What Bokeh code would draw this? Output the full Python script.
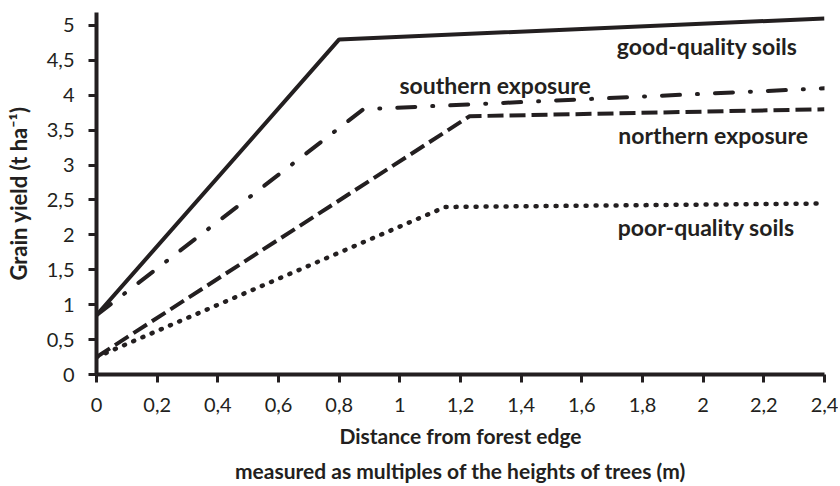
from bokeh.plotting import figure
from bokeh.models import FixedTicker, LinearAxis, Range1d
from bokeh.core.properties import value
from bokeh.embed import file_html
from bokeh.resources import INLINE

# ---- data ----
x_ticks = [0, 0.2, 0.4, 0.6, 0.8, 1.0, 1.2, 1.4, 1.6, 1.8, 2.0, 2.2, 2.4]
x_tick_labels = ["0", "0,2", "0,4", "0,6", "0,8", "1", "1,2", "1,4", "1,6", "1,8", "2", "2,2", "2,4"]
y_ticks = [0, 0.5, 1.0, 1.5, 2.0, 2.5, 3.0, 3.5, 4.0, 4.5, 5.0]
y_tick_labels = ["0", "0,5", "1", "1,5", "2", "2,5", "3", "3,5", "4", "4,5", "5"]

good_x = [0, 0.8, 2.4]
good_y = [0.85, 4.8, 5.1]
south_x = [0, 0.88, 2.4]
south_y = [0.85, 3.8, 4.1]
north_x = [0, 1.23, 2.4]
north_y = [0.25, 3.7, 3.8]
poor_x = [0, 1.15, 2.4]
poor_y = [0.25, 2.4, 2.45]

label_text = ["good-quality soils", "southern exposure", "northern exposure", "poor-quality soils"]
label_x = [2.013, 1.314, 2.033, 2.010]
label_y = [4.71, 4.15, 3.43, 2.11]

INK = "#231f20"
FONT = "Lato"

p = figure(width=838, height=486, output_backend="svg", toolbar_location=None,
           x_range=Range1d(0, 2.4), y_range=Range1d(0, 5.186),
           min_border_left=96, min_border_right=14, min_border_top=12, min_border_bottom=112)
p.grid.visible = False
p.outline_line_color = None
p.background_fill_color = "white"

for ax in (p.xaxis[0], p.yaxis[0]):
    ax.axis_line_width = 4
    ax.axis_line_color = INK
    ax.major_tick_line_width = 3
    ax.major_tick_line_color = INK
    ax.major_tick_out = 8
    ax.major_tick_in = 0
    ax.minor_tick_line_color = None
    ax.major_label_text_font = FONT
    ax.major_label_text_font_size = "20px"
    ax.major_label_text_color = INK
    ax.axis_label_text_font = FONT
    ax.axis_label_text_font_style = "bold"
    ax.axis_label_text_font_size = "21px"
    ax.axis_label_text_color = INK

p.xaxis[0].ticker = FixedTicker(ticks=x_ticks)
p.xaxis[0].major_label_overrides = {t: s for t, s in zip(x_ticks, x_tick_labels)}
p.xaxis[0].major_label_standoff = 15
p.xaxis[0].axis_label = "Distance from forest edge"
p.xaxis[0].axis_label_standoff = 8

p.yaxis[0].ticker = FixedTicker(ticks=y_ticks)
p.yaxis[0].major_label_overrides = {t: s for t, s in zip(y_ticks, y_tick_labels)}
p.yaxis[0].major_label_standoff = 14
p.yaxis[0].axis_label = "Grain yield (t ha\u207b\u00b9)"
p.yaxis[0].axis_label_text_font_size = "22px"
p.yaxis[0].axis_label_standoff = 12

ax2 = LinearAxis(ticker=FixedTicker(ticks=[]), axis_line_color=None,
                 major_tick_line_color=None, minor_tick_line_color=None,
                 major_tick_out=0, major_tick_in=0, major_label_standoff=0,
                 major_label_text_font_size="0px",
                 axis_label="measured as multiples of the heights of trees (m)",
                 axis_label_standoff=7, axis_label_text_font=FONT,
                 axis_label_text_font_style="bold", axis_label_text_font_size="21px",
                 axis_label_text_color=INK)
p.add_layout(ax2, "below")

p.line(good_x, good_y, line_color=INK, line_width=4)
p.line(south_x, south_y, line_color=INK, line_width=4, line_dash="18 17 1 17", line_cap="round")
p.line(north_x, north_y, line_color=INK, line_width=4, line_dash="16 6")
p.line(poor_x, poor_y, line_color=INK, line_width=4.5, line_dash="1 9", line_cap="round")

p.text(x=label_x, y=label_y, text=label_text, text_font=value(FONT), text_font_style="bold",
       text_font_size="23px", text_color=INK, text_align="center", text_baseline="alphabetic")

open("out.html", "w").write(file_html(p, INLINE))
